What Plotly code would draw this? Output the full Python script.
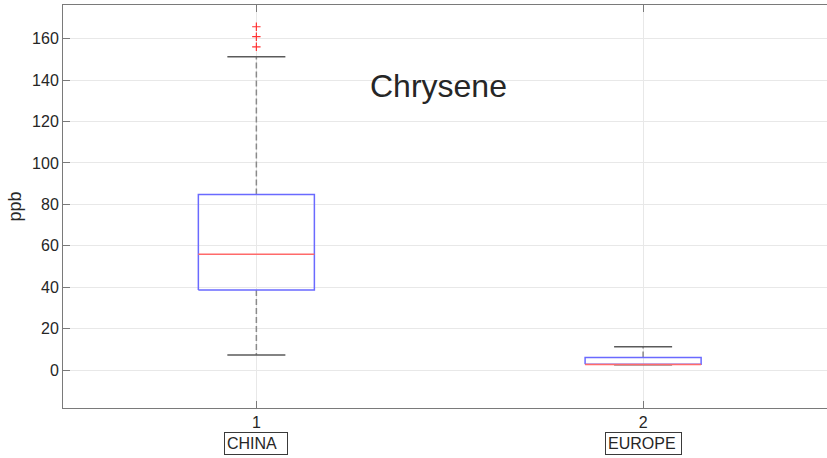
import plotly.graph_objects as go

# ---- data ----
categories = ["CHINA", "EUROPE"]
positions = [1, 2]
q1 = [38.6, 2.75]
median = [55.9, 2.7]
q3 = [84.8, 6.1]
lower_whisker = [7.2, 2.6]
upper_whisker = [151.3, 11.2]
outliers = [[156.1, 161.0, 165.8], []]
title_text = "Chrysene"
y_label = "ppb"
y_ticks = [0, 20, 40, 60, 80, 100, 120, 140, 160]

# ---- style ----
BOX_HALF = 0.15
CAP_HALF = 0.075
BOX_COLOR = "#6a6aff"
MED_COLOR = "#ff6a6a"
WHISK_COLOR = "#8a8a8a"
CAP_COLOR = "#5a5a5a"
TXT = "#262626"
FONT = "Liberation Sans, Arial, sans-serif"
label_box_widths = [58, 71]

fig = go.Figure()

for i, p in enumerate(positions):
    # whiskers (dashed)
    fig.add_trace(go.Scatter(x=[p, p], y=[q3[i], upper_whisker[i]], mode="lines",
                             line=dict(color=WHISK_COLOR, width=1.5, dash="6px,3px"),
                             hoverinfo="skip", showlegend=False))
    fig.add_trace(go.Scatter(x=[p, p], y=[q1[i], lower_whisker[i]], mode="lines",
                             line=dict(color=WHISK_COLOR, width=1.5, dash="6px,3px"),
                             hoverinfo="skip", showlegend=False))
    # caps
    for w in (upper_whisker[i], lower_whisker[i]):
        fig.add_trace(go.Scatter(x=[p - CAP_HALF, p + CAP_HALF], y=[w, w], mode="lines",
                                 line=dict(color=CAP_COLOR, width=1.5),
                                 hoverinfo="skip", showlegend=False))
    # box
    fig.add_trace(go.Scatter(x=[p - BOX_HALF, p + BOX_HALF, p + BOX_HALF, p - BOX_HALF, p - BOX_HALF],
                             y=[q1[i], q1[i], q3[i], q3[i], q1[i]], mode="lines",
                             line=dict(color=BOX_COLOR, width=1.5),
                             hoverinfo="skip", showlegend=False))
    # median
    fig.add_trace(go.Scatter(x=[p - BOX_HALF, p + BOX_HALF], y=[median[i], median[i]], mode="lines",
                             line=dict(color=MED_COLOR, width=1.5),
                             hoverinfo="skip", showlegend=False))
    # outliers
    if outliers[i]:
        fig.add_trace(go.Scatter(x=[p] * len(outliers[i]), y=outliers[i], mode="markers",
                                 marker=dict(symbol="cross-thin", size=6,
                                             line=dict(color="#ff3333", width=1.2)),
                                 hoverinfo="skip", showlegend=False))

# category labels in boxes
for p, c, w in zip(positions, categories, label_box_widths):
    fig.add_annotation(x=p, xref="x", y=-0.0875, yref="paper", text=c, showarrow=False,
                       xanchor="center", yanchor="middle", align="left",
                       width=w, height=17,
                       font=dict(family=FONT, size=16, color=TXT),
                       bordercolor="#3a3a3a", borderwidth=1, borderpad=2, bgcolor="white")

# title inside the axes
fig.add_annotation(x=1.4716, y=137.0, xref="x", yref="y", text=title_text, showarrow=False,
                   xanchor="center", yanchor="middle",
                   font=dict(family=FONT, size=32, color=TXT))

fig.update_layout(
    width=827, height=458,
    margin=dict(l=63, r=0, t=5, b=50),
    paper_bgcolor="white", plot_bgcolor="white",
    font=dict(family=FONT, size=16, color=TXT),
    xaxis=dict(range=[0.5, 2.4755], tickvals=positions, ticktext=[str(p) for p in positions],
               showgrid=True, gridcolor="#e8e8e8", gridwidth=1, zeroline=False,
               showline=True, linecolor="#7a7a7a", linewidth=1, mirror="ticks",
               ticks="inside", ticklen=7, tickcolor="#7a7a7a", ticklabelstandoff=0,
               tickfont=dict(family=FONT, size=16, color=TXT)),
    yaxis=dict(range=[-18.35, 176.3], tickvals=y_ticks,
               showgrid=True, gridcolor="#e8e8e8", gridwidth=1, zeroline=False,
               showline=True, linecolor="#7a7a7a", linewidth=1,
               ticks="inside", ticklen=7, tickcolor="#7a7a7a",
               tickfont=dict(family=FONT, size=16, color=TXT),
               title=dict(text=y_label, font=dict(family=FONT, size=18, color=TXT), standoff=5)),
)

fig.write_html("out.html")
